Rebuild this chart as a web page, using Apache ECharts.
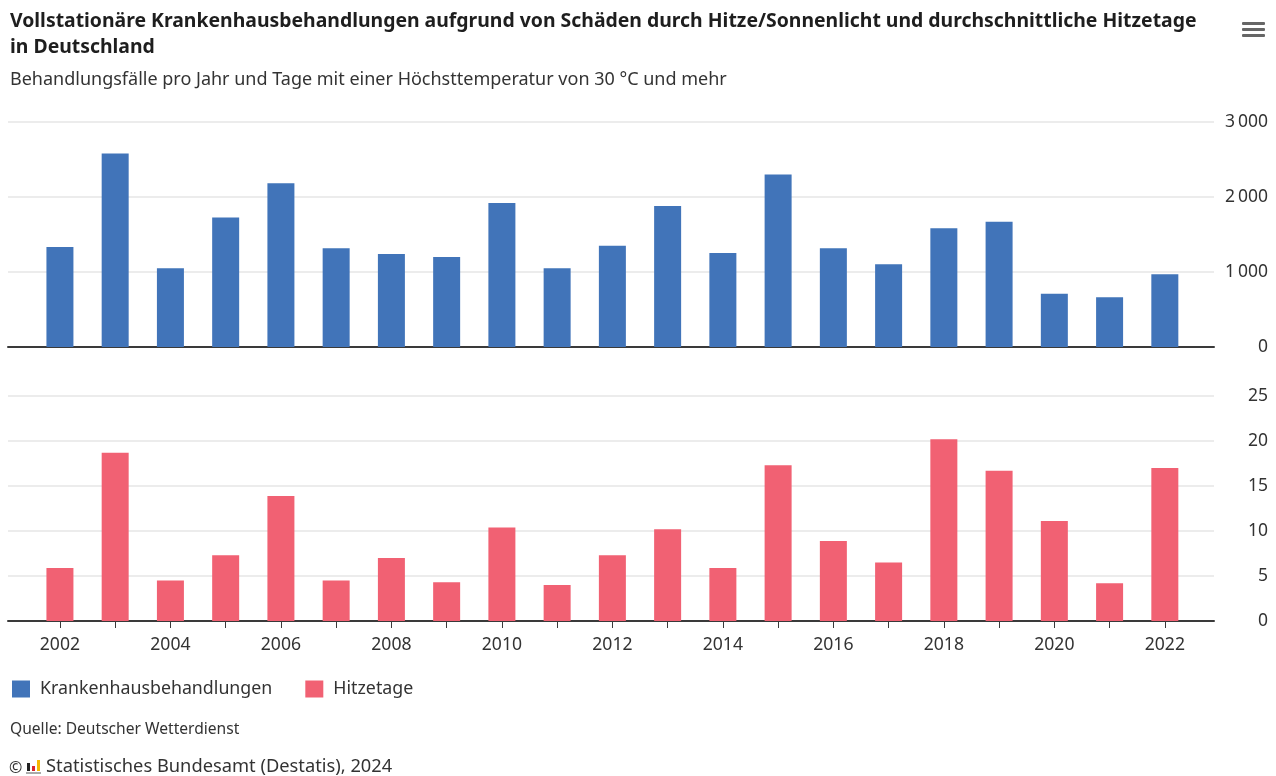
<!DOCTYPE html>
<html>
<head>
<meta charset="utf-8">
<script src="https://cdn.jsdelivr.net/npm/echarts@6/dist/echarts.min.js"></script>
<style>
  html, body { margin: 0; padding: 0; background: #fff; }
  #chart { width: 1276px; height: 776px; }
</style>
</head>
<body>
<div id="chart"></div>
<script>
// Jahre und Werte
const years = [2002, 2003, 2004, 2005, 2006, 2007, 2008, 2009, 2010, 2011, 2012,
  2013, 2014, 2015, 2016, 2017, 2018, 2019, 2020, 2021, 2022]
const krankenhaus = [1334, 2579, 1050, 1728, 2184, 1316, 1241, 1201, 1919, 1050, 1351,
  1879, 1254, 2300, 1316, 1103, 1582, 1670, 709, 665, 970]
const hitzetage = [5.9, 18.7, 4.5, 7.3, 13.9, 4.5, 7.0, 4.3, 10.4, 4.0, 7.3,
  10.2, 5.9, 17.3, 8.9, 6.5, 20.2, 16.7, 11.1, 4.2, 17.0]
const yearLabels = [2002, 2004, 2006, 2008, 2010, 2012, 2014, 2016, 2018, 2020, 2022]

const FONT = 'Noto Sans'
const TXT = '#333333'
const BLUE = '#4174b9'
const RED = '#f16173'

const chart = echarts.init(document.getElementById('chart'))

const xMin = 2001.06, xMax = 2022.89
const fmtThousand = v => String(v).replace(/\B(?=(\d{3})+(?!\d))/g, '\u2009')

const axisLine = { show: true, lineStyle: { color: '#3a3a3a', width: 2 } }
const split = { show: true, lineStyle: { color: '#ececec', width: 2 } }

chart.setOption({
  animation: false,
  textStyle: { fontFamily: FONT },
  title: [
    {
      text: 'Vollstationäre Krankenhausbehandlungen aufgrund von Schäden durch Hitze/Sonnenlicht und durchschnittliche Hitzetage\nin Deutschland',
      left: 10, top: 8, padding: 0,
      textStyle: { fontFamily: FONT, fontSize: 19.4, fontWeight: 'bold', color: '#1e1e1e', lineHeight: 26 }
    },
    {
      text: 'Behandlungsfälle pro Jahr und Tage mit einer Höchsttemperatur von 30 °C und mehr',
      left: 10, top: 71, padding: 0,
      textStyle: { fontFamily: FONT, fontSize: 18, fontWeight: 'normal', color: TXT }
    },
    {
      text: 'Quelle: Deutscher Wetterdienst',
      left: 10, top: 722, padding: 0,
      textStyle: { fontFamily: FONT, fontSize: 15.6, fontWeight: 'normal', color: TXT }
    },
    {
      text: '©',
      left: 9, top: 760, padding: 0,
      textStyle: { fontFamily: FONT, fontSize: 16, fontWeight: 'normal', color: TXT }
    },
    {
      text: 'Statistisches Bundesamt (Destatis), 2024',
      left: 46, top: 758, padding: 0,
      textStyle: { fontFamily: FONT, fontSize: 18.3, fontWeight: 'normal', color: TXT }
    }
  ],
  graphic: [
    // Menü-Symbol
    { type: 'rect', left: 1242, top: 22, shape: { width: 23, height: 3, r: 1 }, style: { fill: '#666' } },
    { type: 'rect', left: 1242, top: 28, shape: { width: 23, height: 3, r: 1 }, style: { fill: '#666' } },
    { type: 'rect', left: 1242, top: 34, shape: { width: 23, height: 3, r: 1 }, style: { fill: '#666' } },
    // Destatis-Logo
    { type: 'rect', left: 27, top: 763, shape: { width: 3, height: 8 }, style: { fill: '#222' } },
    { type: 'rect', left: 32, top: 766, shape: { width: 3, height: 5 }, style: { fill: '#d9262e' } },
    { type: 'rect', left: 37, top: 760, shape: { width: 3, height: 11 }, style: { fill: '#f5b800' } },
    { type: 'rect', left: 26, top: 772, shape: { width: 15, height: 2 }, style: { fill: '#aaa' } }
  ],
  legend: {
    left: 12, top: 680, padding: 0,
    icon: 'rect',
    itemWidth: 18, itemHeight: 17,
    itemGap: 33,
    textStyle: { fontFamily: FONT, fontSize: 17.8, color: TXT, padding: [0, 0, 0, 5] },
    data: ['Krankenhausbehandlungen', 'Hitzetage']
  },
  grid: [
    { left: 8, right: 62, top: 122, height: 225 },
    { left: 8, right: 62, top: 396, height: 225 }
  ],
  xAxis: [
    {
      gridIndex: 0, type: 'value', min: xMin, max: xMax,
      axisLine, axisTick: { show: false }, axisLabel: { show: false }, splitLine: { show: false }
    },
    {
      gridIndex: 1, type: 'value', min: xMin, max: xMax,
      axisLine,
      axisTick: { show: true, customValues: years, length: 7, lineStyle: { color: '#3a3a3a', width: 1 } },
      axisLabel: { customValues: yearLabels, color: TXT, fontSize: 17.6, margin: 15, formatter: v => String(v) },
      splitLine: { show: false }
    }
  ],
  yAxis: [
    {
      gridIndex: 0, type: 'value', position: 'right', min: 0, max: 3000, interval: 1000,
      axisLine: { show: false }, axisTick: { show: false }, splitLine: split,
      axisLabel: { color: TXT, fontSize: 17.5, align: 'right', margin: 54, padding: [4, 0, 0, 0], formatter: fmtThousand }
    },
    {
      gridIndex: 1, type: 'value', position: 'right', min: 0, max: 25, interval: 5,
      axisLine: { show: false }, axisTick: { show: false }, splitLine: split,
      axisLabel: { color: TXT, fontSize: 17.5, align: 'right', margin: 54, padding: [4, 0, 0, 0] }
    }
  ],
  series: [
    {
      name: 'Krankenhausbehandlungen', type: 'bar',
      xAxisIndex: 0, yAxisIndex: 0,
      barWidth: 27,
      itemStyle: { color: BLUE },
      data: years.map((y, i) => [y, krankenhaus[i]])
    },
    {
      name: 'Hitzetage', type: 'bar',
      xAxisIndex: 1, yAxisIndex: 1,
      barWidth: 27,
      itemStyle: { color: RED },
      data: years.map((y, i) => [y, hitzetage[i]])
    }
  ]
})

window.addEventListener('resize', () => chart.resize())
</script>
</body>
</html>
